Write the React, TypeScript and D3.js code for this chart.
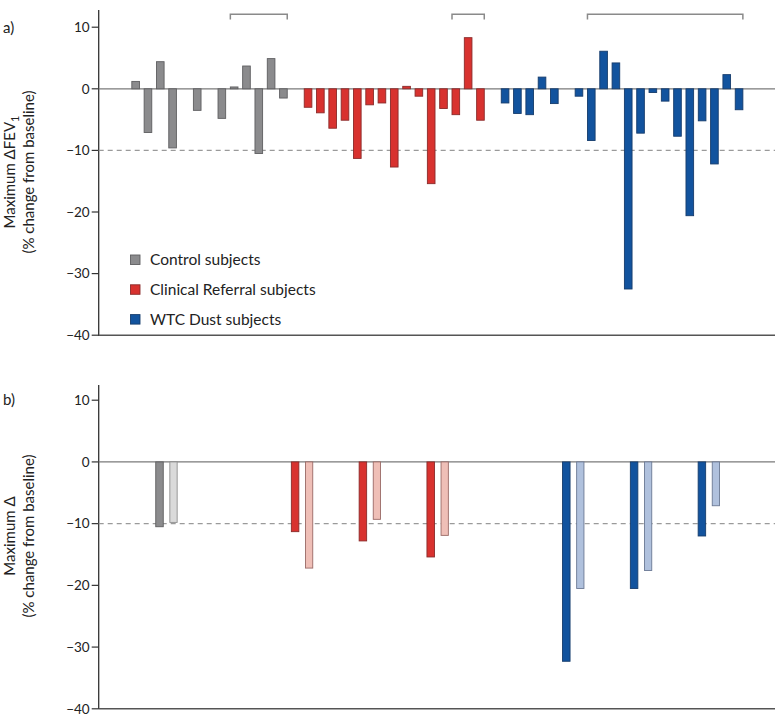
import React from 'react';
import * as d3 from 'd3';

// ---------- Data ----------
// Panel a: maximum ΔFEV1 per subject (null = no bar)
const controlValues: (number | null)[] = [1.2, -7.1, 4.4, -9.6, null, -3.5, null, -4.8, 0.3, 3.7, -10.5, 4.9, -1.5];
const referralValues: (number | null)[] = [-3.0, -3.9, -6.4, -5.1, -11.3, -2.6, -2.3, -12.7, 0.4, -1.2, -15.4, -3.2, -4.2, 8.3, -5.1];
const wtcValues: (number | null)[] = [-2.3, -4.0, -4.2, 1.9, -2.4, null, -1.2, -8.4, 6.1, 4.2, -32.5, -7.2, -0.6, -2.0, -7.7, -20.6, -5.2, -12.2, 2.3, -3.4];
const groupStartSlot = [0, 14, 30];
// brackets over subjects (slot ranges)
const bracketStart = [8, 26, 37];
const bracketEnd = [12, 28, 49];

// Panel b: paired maximum Δ values
const pairGroup = ['control', 'referral', 'referral', 'referral', 'wtc', 'wtc', 'wtc'];
const pairSlot = [0, 2, 3, 4, 6, 7, 8];
const pairFirst = [-10.5, -11.3, -12.8, -15.4, -32.3, -20.5, -12.0];
const pairSecond = [-9.8, -17.2, -9.3, -11.9, -20.5, -17.6, -7.1];

const yTicks = [10, 0, -10, -20, -30, -40];
const legendLabels = ['Control subjects', 'Clinical Referral subjects', 'WTC Dust subjects'];
const groupKeys = ['control', 'referral', 'wtc'];

const colors: Record<string, { fill: string; stroke: string; light: string; lightStroke: string }> = {
  control: { fill: '#8b8b8d', stroke: '#5e5e60', light: '#dadada', lightStroke: '#8e8e8e' },
  referral: { fill: '#d8322f', stroke: '#8a2b2a', light: '#efbfb7', lightStroke: '#9a6a66' },
  wtc: { fill: '#12539e', stroke: '#163c6c', light: '#b0c1dd', lightStroke: '#6b7994' },
};

const FONT = 'Lato, "Noto Sans", sans-serif';
const AXIS_X = 98.7;
const RIGHT = 776;

function fmt(v: number) {
  return v < 0 ? '\u2212' + Math.abs(v) : String(v);
}

function YAxis({ y, top, bottom }: { y: d3.ScaleLinear<number, number>; top: number; bottom: number }) {
  return (
    <g>
      <line x1={AXIS_X} x2={AXIS_X} y1={top} y2={bottom} stroke="#333" strokeWidth={1.3} />
      {yTicks.map((t) => (
        <g key={t}>
          <line x1={AXIS_X - 7} x2={AXIS_X} y1={y(t)} y2={y(t)} stroke="#333" strokeWidth={1.2} />
          <text x={AXIS_X - 9} y={y(t)} dy="0.35em" textAnchor="end" fontSize={13.5} fill="#222" fontFamily={FONT}>
            {fmt(t)}
          </text>
        </g>
      ))}
      <line x1={AXIS_X} x2={RIGHT} y1={y(0)} y2={y(0)} stroke="#7a7a7a" strokeWidth={1.3} />
      <line x1={AXIS_X} x2={RIGHT} y1={y(-10)} y2={y(-10)} stroke="#9a9a9a" strokeWidth={1.2} strokeDasharray="5,4" />
      <line x1={AXIS_X} x2={RIGHT} y1={y(-40)} y2={y(-40)} stroke="#555" strokeWidth={1.6} />
    </g>
  );
}

function Bar({ cx, w, y, v, fill, stroke }: { cx: number; w: number; y: d3.ScaleLinear<number, number>; v: number; fill: string; stroke: string }) {
  const y0 = y(0);
  const y1 = y(v);
  return (
    <rect
      x={cx - w / 2}
      y={Math.min(y0, y1)}
      width={w}
      height={Math.abs(y1 - y0)}
      fill={fill}
      stroke={stroke}
      strokeWidth={0.9}
    />
  );
}

export default function App() {
  const xTop = d3.scaleLinear().domain([-3, 52]).range([AXIS_X, RIGHT]);
  const yTop = d3.scaleLinear().domain([-40, 10]).range([335.2, 27.2]);
  const xBot = d3.scaleLinear().domain([-1, 9]).range([AXIS_X, 776.7]);
  const yBot = d3.scaleLinear().domain([-40, 10]).range([708.8, 400.2]);

  const slotW = xTop(1) - xTop(0);
  const barW = slotW * 0.62;
  const groups = [controlValues, referralValues, wtcValues];

  const topBars: JSX.Element[] = [];
  groups.forEach((vals, gi) => {
    vals.forEach((v, i) => {
      if (v === null) return;
      const c = colors[groupKeys[gi]];
      topBars.push(
        <Bar key={`t${gi}-${i}`} cx={xTop(groupStartSlot[gi] + i)} w={barW} y={yTop} v={v} fill={c.fill} stroke={c.stroke} />
      );
    });
  });

  const botBars: JSX.Element[] = [];
  pairSlot.forEach((s, i) => {
    const c = colors[pairGroup[i]];
    const cx = xBot(s);
    botBars.push(<Bar key={`b1-${i}`} cx={cx - 7} w={7.5} y={yBot} v={pairFirst[i]} fill={c.fill} stroke={c.stroke} />);
    botBars.push(<Bar key={`b2-${i}`} cx={cx + 7} w={7.3} y={yBot} v={pairSecond[i]} fill={c.light} stroke={c.lightStroke} />);
  });

  return (
    <svg
      width={775}
      height={721}
      style={{ position: 'absolute', left: 0, top: 0, background: '#fff' }}
      fontFamily={FONT}
    >
      {/* Panel a */}
      <text x={3} y={33} fontSize={15} fill="#222">a)</text>
      <g transform="translate(15,172) rotate(-90)">
        <text textAnchor="middle" fontSize={15} fill="#222">
          Maximum ΔFEV<tspan fontSize={11} dy={4}>1</tspan>
        </text>
      </g>
      <g transform="translate(34,172) rotate(-90)">
        <text textAnchor="middle" fontSize={15} fill="#222">(% change from baseline)</text>
      </g>
      <YAxis y={yTop} top={10} bottom={336} />
      {topBars}
      {bracketStart.map((s, i) => {
        const x1 = xTop(s) - barW / 2;
        const x2 = xTop(bracketEnd[i]) + barW / 2;
        return (
          <path
            key={`br${i}`}
            d={`M${x1},19.5 V14.3 H${x2} V19.5`}
            fill="none"
            stroke="#8a8a8a"
            strokeWidth={1.5}
          />
        );
      })}
      {legendLabels.map((l, i) => {
        const c = colors[groupKeys[i]];
        const yy = 255 + i * 29.8;
        return (
          <g key={l}>
            <rect x={130.5} y={yy} width={9.5} height={9.5} fill={c.fill} stroke={c.stroke} strokeWidth={0.9} />
            <text x={150} y={yy + 10} fontSize={15.5} fill="#222">{l}</text>
          </g>
        );
      })}

      {/* Panel b */}
      <text x={3} y={405} fontSize={15} fill="#222">b)</text>
      <g transform="translate(15,536) rotate(-90)">
        <text textAnchor="middle" fontSize={15} fill="#222">Maximum Δ</text>
      </g>
      <g transform="translate(34,536) rotate(-90)">
        <text textAnchor="middle" fontSize={15} fill="#222">(% change from baseline)</text>
      </g>
      <YAxis y={yBot} top={385} bottom={709} />
      {botBars}
    </svg>
  );
}
